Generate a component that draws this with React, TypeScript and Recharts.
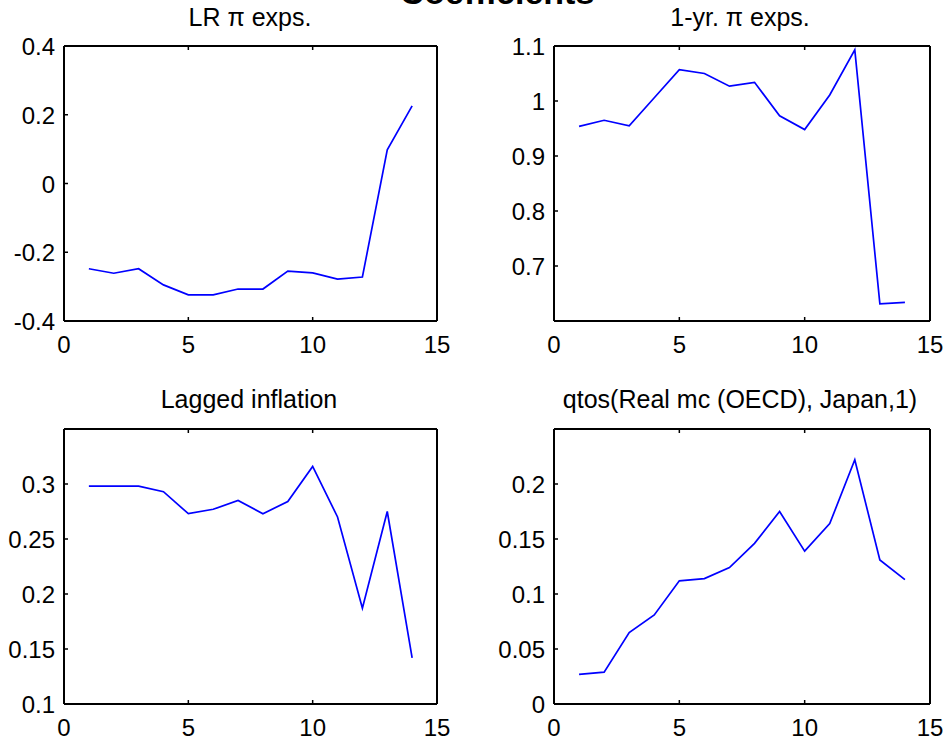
import { LineChart, Line, XAxis, YAxis } from "recharts";

const periods = [1, 2, 3, 4, 5, 6, 7, 8, 9, 10, 11, 12, 13, 14];
const lrExps = [-0.248, -0.261, -0.248, -0.295, -0.324, -0.324, -0.307, -0.307, -0.255, -0.26, -0.278, -0.272, 0.098, 0.226];
const oneYrExps = [0.954, 0.965, 0.955, 1.006, 1.057, 1.05, 1.027, 1.034, 0.973, 0.948, 1.011, 1.093, 0.631, 0.634];
const laggedInfl = [0.298, 0.298, 0.298, 0.293, 0.273, 0.277, 0.285, 0.273, 0.284, 0.316, 0.27, 0.187, 0.275, 0.142];
const realMc = [0.027, 0.029, 0.065, 0.081, 0.112, 0.114, 0.124, 0.146, 0.175, 0.139, 0.164, 0.222, 0.131, 0.113];

const xTicks = [0, 5, 10, 15];
const lrTicks = [-0.4, -0.2, 0, 0.2, 0.4];
const oneYrTicks = [0.7, 0.8, 0.9, 1, 1.1];
const laggedTicks = [0.1, 0.15, 0.2, 0.25, 0.3];
const mcTicks = [0, 0.05, 0.1, 0.15, 0.2];

const FONT = "'Liberation Sans', Arial, Helvetica, sans-serif";
const Y_W = 60;
const X_H = 40;
const TICK = 4;
const M = { top: 19, right: 19, bottom: 0, left: 0 };

// MATLAB-style ticks: short line pointing into the plot box, label outside
function BottomTick(props: any) {
  const { x, y, payload } = props;
  return (
    <g>
      <line x1={x} y1={y} x2={x} y2={y - TICK} stroke="#000" strokeWidth={1.5} />
      <text x={x} y={y + 32} textAnchor="middle" fontSize={24} fontFamily={FONT} fill="#000">
        {payload.value}
      </text>
    </g>
  );
}

function TopTick(props: any) {
  const { x, y } = props;
  return <line x1={x} y1={y} x2={x} y2={y + TICK} stroke="#000" strokeWidth={1.5} />;
}

function LeftTick(props: any) {
  const { x, y, payload } = props;
  return (
    <g>
      <line x1={x} y1={y} x2={x + TICK} y2={y} stroke="#000" strokeWidth={1.5} />
      <text x={x - 9} y={y + 9} textAnchor="end" fontSize={24} fontFamily={FONT} fill="#000">
        {payload.value}
      </text>
    </g>
  );
}

function RightTick(props: any) {
  const { x, y } = props;
  return <line x1={x} y1={y} x2={x - TICK} y2={y} stroke="#000" strokeWidth={1.5} />;
}

interface PanelProps {
  values: number[];
  domain: [number, number];
  ticks: number[];
  left: number;
  top: number;
  w: number;
  h: number;
}

function Panel({ values, domain, ticks, left, top, w, h }: PanelProps) {
  const data = periods.map((p, i) => ({ p, v: values[i] }));
  const axisLine = { stroke: "#000", strokeWidth: 2 };
  return (
    <div style={{ position: "absolute", left: left - Y_W, top: top - M.top - 1 }}>
      <LineChart width={Y_W + w + 1 + M.right} height={M.top + 1 + h + X_H} data={data} margin={M}>
        <XAxis
          dataKey="p"
          type="number"
          domain={[0, 15]}
          ticks={xTicks}
          height={X_H}
          tick={<BottomTick />}
          tickSize={0}
          tickMargin={0}
          tickLine={false}
          axisLine={axisLine}
        />
        <XAxis
          xAxisId="t"
          orientation="top"
          dataKey="p"
          type="number"
          domain={[0, 15]}
          ticks={xTicks}
          height={1}
          tick={<TopTick />}
          tickSize={0}
          tickMargin={0}
          tickLine={false}
          axisLine={axisLine}
        />
        <YAxis
          type="number"
          domain={domain}
          ticks={ticks}
          width={Y_W}
          tick={<LeftTick />}
          tickSize={0}
          tickMargin={0}
          tickLine={false}
          axisLine={axisLine}
        />
        <YAxis
          yAxisId="r"
          orientation="right"
          type="number"
          domain={domain}
          ticks={ticks}
          width={1}
          tick={<RightTick />}
          tickSize={0}
          tickMargin={0}
          tickLine={false}
          axisLine={axisLine}
        />
        <Line
          type="linear"
          dataKey="v"
          stroke="#0000ff"
          strokeWidth={1.7}
          dot={false}
          isAnimationActive={false}
        />
      </LineChart>
    </div>
  );
}

export default function App() {
  const titleStyle = { fontSize: 25, fontFamily: FONT, fill: "#000" };
  return (
    <div style={{ position: "absolute", left: 0, top: 0, width: 950, height: 744, background: "#fff", overflow: "hidden" }}>
      <Panel values={lrExps} domain={[-0.4, 0.4]} ticks={lrTicks} left={64} top={46} w={373} h={275} />
      <Panel values={oneYrExps} domain={[0.6, 1.1]} ticks={oneYrTicks} left={554} top={46} w={376} h={275} />
      <Panel values={laggedInfl} domain={[0.1, 0.35]} ticks={laggedTicks} left={64} top={429} w={373} h={275} />
      <Panel values={realMc} domain={[0, 0.25]} ticks={mcTicks} left={554} top={429} w={376} h={275} />
      <svg width={950} height={744} style={{ position: "absolute", left: 0, top: 0, pointerEvents: "none" }}>
        <text x={497} y={4} textAnchor="middle" style={{ fontSize: 34, fontWeight: "bold", fontFamily: FONT }}>
          Coefficients
        </text>
        <text x={250} y={26} textAnchor="middle" style={titleStyle}>LR π exps.</text>
        <text x={740} y={26} textAnchor="middle" style={titleStyle}>1-yr. π exps.</text>
        <text x={249} y={408} textAnchor="middle" style={titleStyle}>Lagged inflation</text>
        <text x={740} y={408} textAnchor="middle" style={titleStyle}>qtos(Real mc (OECD), Japan,1)</text>
      </svg>
    </div>
  );
}
